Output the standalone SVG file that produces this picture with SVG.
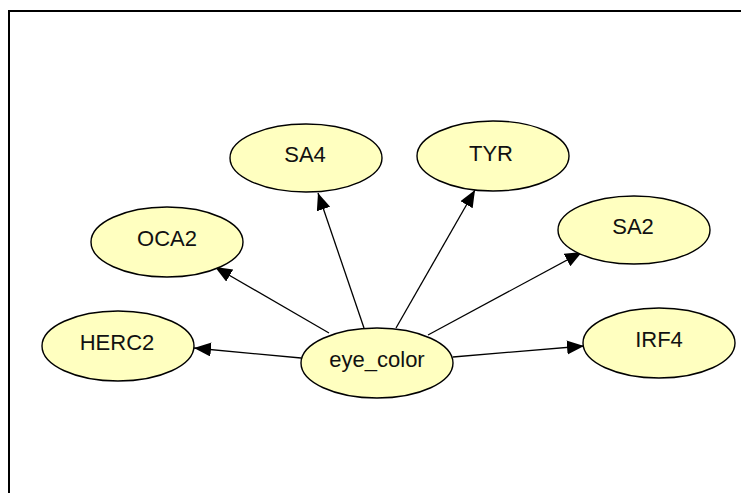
<svg xmlns="http://www.w3.org/2000/svg" width="741" height="493" viewBox="0 0 741 493">
  <style>
    .node ellipse { fill: #FFFFC0; stroke: #000; stroke-width: 1.4; }
    .node text { font-family: "Liberation Sans", Arial, sans-serif; font-size: 22px; fill: #111; text-anchor: middle; }
    .edges line { stroke: #000; stroke-width: 1.3; marker-end: url(#arrow); }
  </style>
  <defs>
    <marker id="arrow" markerUnits="userSpaceOnUse" markerWidth="18" markerHeight="15" refX="17" refY="7" orient="auto">
      <path d="M0,0 L17,7 L0,14 z" fill="#000"/>
    </marker>
  </defs>
  <rect width="741" height="493" fill="#fff"/>
  <path d="M9,493 L9,11 L741,11" fill="none" stroke="#000" stroke-width="2"/>
  <g class="edges">
    <line x1="301" y1="358" x2="194" y2="348"/>
    <line x1="329" y1="333" x2="215" y2="267"/>
    <line x1="364" y1="328" x2="318" y2="193"/>
    <line x1="396" y1="328" x2="475" y2="190"/>
    <line x1="428" y1="335" x2="582" y2="252"/>
    <line x1="453" y1="357" x2="584" y2="346"/>
  </g>
  <g id="node-SA4" class="node"><ellipse cx="306" cy="158" rx="76" ry="34"/><text x="305" y="162">SA4</text></g>
  <g id="node-TYR" class="node"><ellipse cx="493" cy="156" rx="76" ry="35"/><text x="491" y="161">TYR</text></g>
  <g id="node-OCA2" class="node"><ellipse cx="167" cy="242" rx="76" ry="35"/><text x="167" y="246">OCA2</text></g>
  <g id="node-SA2" class="node"><ellipse cx="634" cy="230" rx="76" ry="34"/><text x="633" y="234">SA2</text></g>
  <g id="node-HERC2" class="node"><ellipse cx="118" cy="346" rx="76" ry="35"/><text x="117" y="350">HERC2</text></g>
  <g id="node-eye_color" class="node"><ellipse cx="377" cy="363" rx="76" ry="35"/><text x="377" y="367">eye_color</text></g>
  <g id="node-IRF4" class="node"><ellipse cx="659" cy="343" rx="76" ry="35"/><text x="659" y="347">IRF4</text></g>
</svg>
